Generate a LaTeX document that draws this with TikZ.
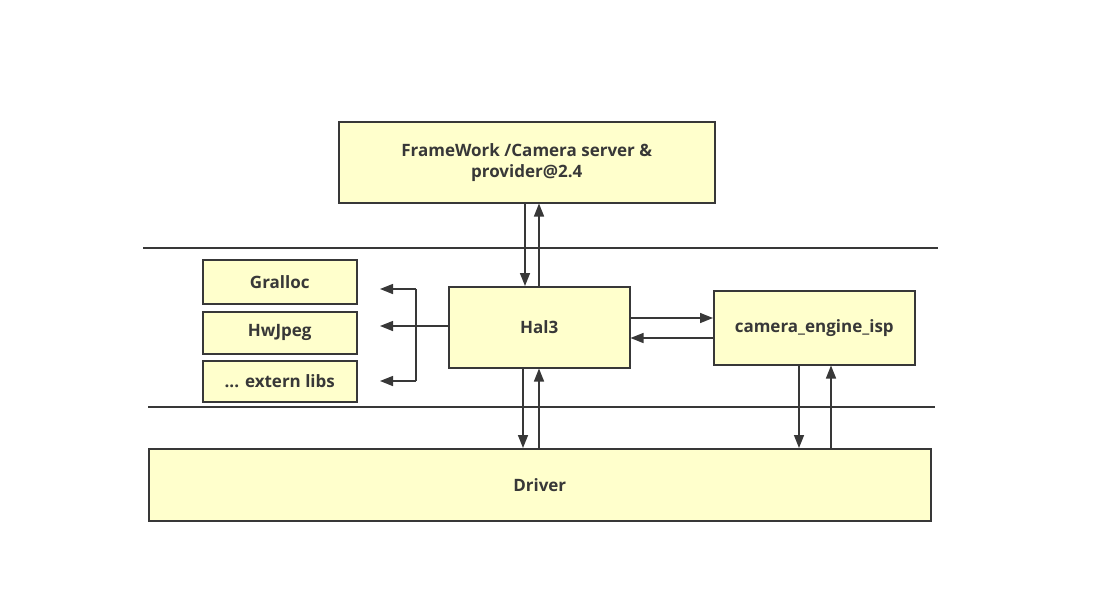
\documentclass[tikz,border=0pt]{standalone}
\usepackage{fontspec}
\setmainfont{Open Sans}
\usetikzlibrary{arrows.meta}
\definecolor{boxfill}{HTML}{FFFFCC}
\definecolor{ink}{HTML}{383838}
\begin{document}
\begin{tikzpicture}[x=1pt,y=-1pt,
  blk/.style={draw=ink,line width=1.5pt,fill=boxfill,inner sep=0pt,anchor=north west,
    font=\fontsize{17}{21}\selectfont\bfseries,text=ink,align=center},
  conn/.style={draw=ink,line width=1.5pt,-{Triangle[length=13pt,width=10pt]}},
  sep/.style={draw=ink,line width=1.3pt}]
\useasboundingbox (0,0) rectangle (1100,614);
\node[blk,minimum width=376pt,minimum height=81pt] (fw) at (338,121) {FrameWork /Camera server \&\\provider@2.4};
\node[blk,minimum width=154pt,minimum height=44pt] (gr) at (202,259) {Gralloc};
\node[blk,minimum width=154pt,minimum height=42pt] (hj) at (202,311) {HwJpeg};
\node[blk,minimum width=154pt,minimum height=41pt] (ex) at (202,360) {... extern libs};
\node[blk,minimum width=181pt,minimum height=81pt] (hal) at (448,286) {Hal3};
\node[blk,minimum width=201pt,minimum height=74pt] (isp) at (713,290) {camera\_engine\_isp};
\node[blk,minimum width=782pt,minimum height=72pt] (drv) at (148,448) {Driver};
\coordinate (s1a) at (143,248); \coordinate (s1b) at (938,248);
\coordinate (s2a) at (148,407); \coordinate (s2b) at (935,407);
\draw[sep] (s1a) -- (s1b);
\draw[sep] (s2a) -- (s2b);
% framework <-> hal
\draw[conn] (fw.south west -| 525,0) -- (hal.north west -| 525,0);
\draw[conn] (hal.north west -| 539,0) -- (fw.south west -| 539,0);
% hal <-> driver
\draw[conn] (hal.south west -| 523,0) -- (drv.north west -| 523,0);
\draw[conn] (drv.north west -| 539,0) -- (hal.south west -| 539,0);
% hal <-> isp
\draw[conn] (hal.north east |- 0,318) -- (isp.north west |- 0,318);
\draw[conn] (isp.north west |- 0,338) -- (hal.north east |- 0,338);
% isp <-> driver
\draw[conn] (isp.south west -| 799,0) -- (drv.north west -| 799,0);
\draw[conn] (drv.north west -| 831,0) -- (isp.south west -| 831,0);
% fan to libs
\coordinate (fj) at (416,326);
\coordinate (ft) at (416,289);
\coordinate (fb) at (416,381);
\draw[draw=ink,line width=1.5pt] (hal.west |- fj) -- (fj);
\draw[draw=ink,line width=1.5pt] (ft) -- (fb);
\draw[conn] (ft) -- (380,289);
\draw[conn] (fj) -- (380,326);
\draw[conn] (fb) -- (380,381);
\end{tikzpicture}
\end{document}
